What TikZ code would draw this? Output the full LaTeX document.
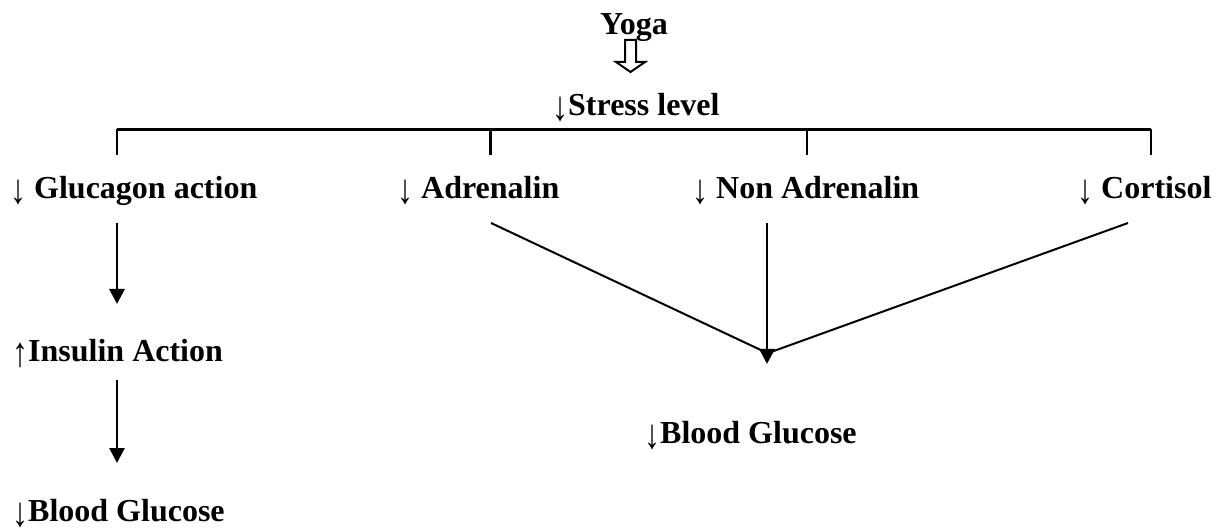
\documentclass[tikz,border=0pt]{standalone}
\usepackage{fontspec}
\setmainfont{Liberation Serif}
\usetikzlibrary{arrows.meta}
\newcommand\dnarr{{\mdseries\raisebox{-5pt}{\scalebox{1}[1.3]{↓}}}}
\newcommand\uparr{{\mdseries\raisebox{-5pt}{\scalebox{1}[1.3]{↑}}}}
\begin{document}
\begin{tikzpicture}[x=1pt,y=-1pt,
  lbl/.style={anchor=base west, inner sep=0pt, font=\fontsize{32}{38}\selectfont\bfseries},
  ln/.style={line width=2pt},
  busline/.style={line width=2.8pt},
  arr/.style={line width=2.8pt, -{Triangle[width=15pt,length=15pt]}},
]
\useasboundingbox (0,0) rectangle (1216,529);
% texts
\node[lbl] (yoga) at (600,35) {Yoga};
\node[lbl] (stress) at (552,116) {\dnarr Stress level};
\node[lbl] (gluc) at (10,199) {\dnarr\ Glucagon action};
\node[lbl] (adr) at (397,199) {\dnarr\ Adrenalin};
\node[lbl] (nonadr) at (692,199) {\dnarr\ Non Adrenalin};
\node[lbl] (cort) at (1077,199) {\dnarr\ Cortisol};
\node[lbl] (ins) at (12,362) {\uparr Insulin Action};
\node[lbl] (bgl) at (12,521) {\dnarr Blood Glucose};
\node[lbl] (bgr) at (644,443) {\dnarr Blood Glucose};
% hollow arrow Yoga -> Stress
\draw[ln, line join=miter] (625,40) -- (636,40) -- (636,62) -- (645,62) -- (630.5,72)
  -- (616,62) -- (625,62) -- cycle;
% bus
\coordinate (b1) at (117,129.5);
\coordinate (b2) at (490.7,129.5);
\coordinate (b3) at (807,129.5);
\coordinate (b4) at (1151,129.5);
\draw[busline] (b1) -- (b4);
\foreach \c in {b1,b2,b3,b4} \draw[busline] (\c) -- ++(0,25.5);
% left chain
\coordinate (g1) at (117,223);
\coordinate (g2) at (117,304);
\coordinate (i1) at (117,380);
\coordinate (i2) at (117,463);
\draw[arr] (g1) -- (g2);
\draw[arr] (i1) -- (i2);
% V
\coordinate (a1) at (491,223);
\coordinate (n1) at (767,223);
\coordinate (c1) at (1128,223);
\coordinate (vl) at (765,352);
\coordinate (vr) at (771,352);
\coordinate (n2) at (767,364);
\draw[ln] (a1) -- (vl);
\draw[ln] (c1) -- (vr);
\draw[arr] (n1) -- (n2);
\end{tikzpicture}
\end{document}
